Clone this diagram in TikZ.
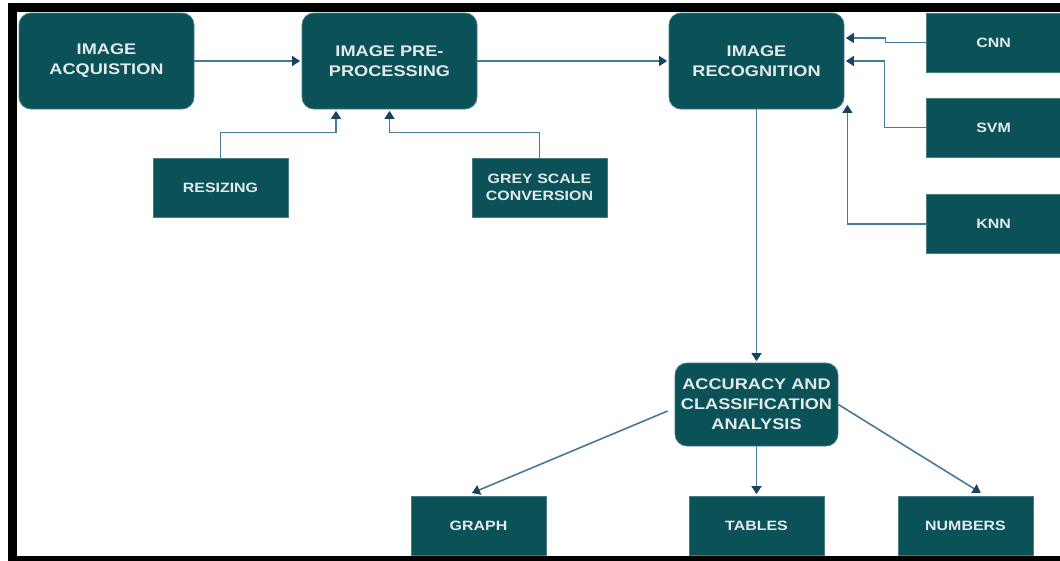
\documentclass[tikz,border=0pt]{standalone}
\usepackage{fontspec}
\setmainfont{Liberation Sans}[FakeStretch=1.18]
\usetikzlibrary{arrows.meta, positioning, calc}
\definecolor{boxteal}{RGB}{10, 82, 88}
\definecolor{boxtext}{RGB}{228, 234, 234}
\definecolor{linkblue}{RGB}{72, 122, 152}
\definecolor{tipblue}{RGB}{24, 68, 98}

\tikzset{
  stagebox/.style={fill=boxteal, draw=boxteal!75!white, line width=0.8pt, rounded corners=12pt,
                   minimum width=175pt, minimum height=96pt, inner sep=0pt, align=center,
                   text=boxtext, font=\bfseries\fontsize{15.4}{20}\selectfont},
  toolbox/.style={fill=boxteal, draw=boxteal!75!white, line width=0.8pt,
                  minimum width=135pt, minimum height=59pt, inner sep=0pt, align=center,
                  text=boxtext, font=\bfseries\fontsize{13.5}{17}\selectfont},
  link/.style={draw=linkblue, line width=1.6pt, shorten >=1.5pt,
               -{Triangle[width=10pt, length=8pt, color=tipblue]}}
}

\begin{document}
\begin{tikzpicture}[x=1pt, y=-1pt]
    \useasboundingbox[fill=white] (0,0) rectangle (1060,560);

    % main pipeline
    \node[stagebox] (acq) at (106.5,61) {IMAGE\\ACQUISTION};
    \node[stagebox] (pre) at (389.5,61) {IMAGE PRE-\\PROCESSING};
    \node[stagebox] (rec) at (756.5,61) {IMAGE\\RECOGNITION};
    \node[stagebox, minimum width=163pt, minimum height=83pt] (acc) at (756.5,404.5)
        {ACCURACY AND\\CLASSIFICATION\\ANALYSIS};

    % pre-processing steps
    \node[toolbox] (res) at (220.5,187.5) {RESIZING};
    \node[toolbox] (grey) at (539.5,187.5) {GREY SCALE\\CONVERSION};

    % classifiers
    \node[toolbox] (cnn) at (993.5,42.5) {CNN};
    \node[toolbox] (svm) at (993.5,127.5) {SVM};
    \node[toolbox] (knn) at (993.5,224) {KNN};

    % outputs
    \node[toolbox] (graph) at (478.5,525.5) {GRAPH};
    \node[toolbox] (tables) at (756.5,525.5) {TABLES};
    \node[toolbox] (numbers) at (965.5,525.5) {NUMBERS};

    % connectors
    \draw[link] (acq.east) -- (pre.west);
    \draw[link] (pre.east) -- (rec.west);
    \draw[link] (res.north) -- ++(0,-25) -| ([xshift=-53.5pt]pre.south);
    \draw[link] (grey.north) -- ++(0,-25) -| (pre.south);
    \draw[link] (cnn.west) -- ++(-40,0) |- ([yshift=23pt]rec.east);
    \draw[link] (svm.west) -- ++(-41,0) |- (rec.east);
    \draw[link] (knn.west) -| ([xshift=3pt, yshift=6pt]rec.south east);
    \draw[link] (rec.south) -- (acc.north);
    \draw[link] ([xshift=-7pt, yshift=-6.5pt]acc.west) -- ([xshift=-8pt, yshift=2pt]graph.north);
    \draw[link] (acc.south) -- (tables.north);
    \draw[link] (acc.east) -- ([xshift=16.5pt, yshift=2pt]numbers.north);

    % frame
    \draw[black, line width=9pt] (12.5,7.5) rectangle (1075,560);
\end{tikzpicture}
\end{document}
